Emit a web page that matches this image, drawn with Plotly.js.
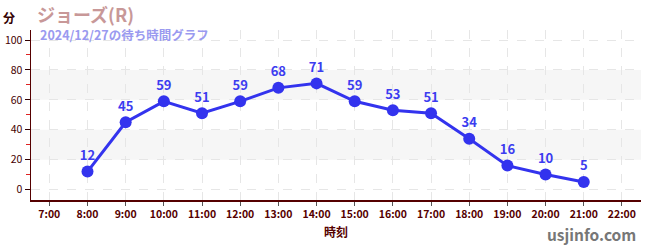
<!DOCTYPE html>
<html><head><meta charset="utf-8">
<script src="https://cdn.plot.ly/plotly-3.0.1.min.js"></script>
<style>html,body{margin:0;padding:0;background:#fff}#c{width:650px;height:250px}</style>
</head><body><div id="c"></div>
<script>
const hours = [8, 9, 10, 11, 12, 13, 14, 15, 16, 17, 18, 19, 20, 21];
const waits = [12, 45, 59, 51, 59, 68, 71, 59, 53, 51, 34, 16, 10, 5];
const tickVals = [7, 8, 9, 10, 11, 12, 13, 14, 15, 16, 17, 18, 19, 20, 21, 22];
const tickText = tickVals.map(h => h + ':00');
const bands = [[20, 40], [60, 80]];
const FONT = '"Noto Sans CJK JP", "Noto Sans", sans-serif';

const trace = {
  x: hours, y: waits, type: 'scatter', mode: 'lines+markers+text',
  text: waits.map(String), textposition: 'top center',
  textfont: {family: FONT, size: 13, color: '#3c3cf0', weight: 'bold'},
  line: {color: '#3333ee', width: 3},
  marker: {color: '#3333ee', size: 12},
  cliponaxis: false, hoverinfo: 'skip'
};

const shapes = bands.map(b => ({
  type: 'rect', xref: 'paper', yref: 'y', x0: 0, x1: 1, y0: b[0], y1: b[1],
  fillcolor: '#f6f6f6', line: {width: 0}, layer: 'below'
}));

const layout = {
  width: 650, height: 250,
  margin: {l: 31, r: 9, t: 30, b: 50},
  paper_bgcolor: '#fff', plot_bgcolor: '#fff',
  showlegend: false,
  font: {family: FONT},
  shapes: shapes,
  xaxis: {
    range: [6.52, 22.5], tickvals: tickVals, ticktext: tickText,
    showline: true, linecolor: '#550000', linewidth: 1.5,
    ticks: 'outside', ticklen: 4, tickcolor: '#555',
    tickfont: {size: 10.5, color: '#550000', family: FONT, weight: 'bold'},
    showgrid: true, gridcolor: '#e6e6e6', griddash: 'dash', zeroline: false,
    title: {text: '時刻', font: {size: 12, color: '#550000', family: FONT, weight: 'bold'}, standoff: 8}
  },
  yaxis: {
    range: [-7, 106.7], tickvals: [0, 20, 40, 60, 80, 100],
    showline: true, linecolor: '#550000', linewidth: 1.5,
    ticks: 'outside', ticklen: 5, tickcolor: '#330000',
    minor: {tickvals: [10, 30, 50, 70, 90], ticks: 'outside', ticklen: 4, tickcolor: '#dd2222', showgrid: false},
    tickfont: {size: 10.5, color: '#440000', family: FONT},
    showgrid: true, gridcolor: '#e6e6e6', griddash: 'dash', zeroline: false
  },
  annotations: [
    {xref: 'paper', yref: 'paper', x: -0.05, y: 1, xanchor: 'left', yanchor: 'bottom', yshift: 2,
     text: '分', showarrow: false, font: {size: 12, color: '#330000', family: FONT, weight: 'bold'}},
    {xref: 'paper', yref: 'paper', x: 0.008, y: 1, xanchor: 'left', yanchor: 'bottom', yshift: 2, borderpad: 0,
     text: 'ジョーズ(R)', showarrow: false, font: {size: 18, color: '#c89898', family: FONT, weight: 'bold'}},
    {xref: 'paper', yref: 'paper', x: 0.013, y: 1, xanchor: 'left', yanchor: 'top', yshift: 6, borderpad: 0,
     text: '2024/12/27の待ち時間グラフ', showarrow: false, font: {size: 12.5, color: '#9a9af0', family: FONT, weight: 'bold'}},
    {xref: 'paper', yref: 'paper', x: 0.995, y: 0, xanchor: 'right', yanchor: 'top', yshift: -21,
     text: 'usjinfo.com', showarrow: false, font: {size: 15.5, color: '#777', family: FONT, weight: 'bold'}}
  ]
};

Plotly.newPlot('c', [trace], layout, {staticPlot: true, displayModeBar: false});
</script></body></html>
